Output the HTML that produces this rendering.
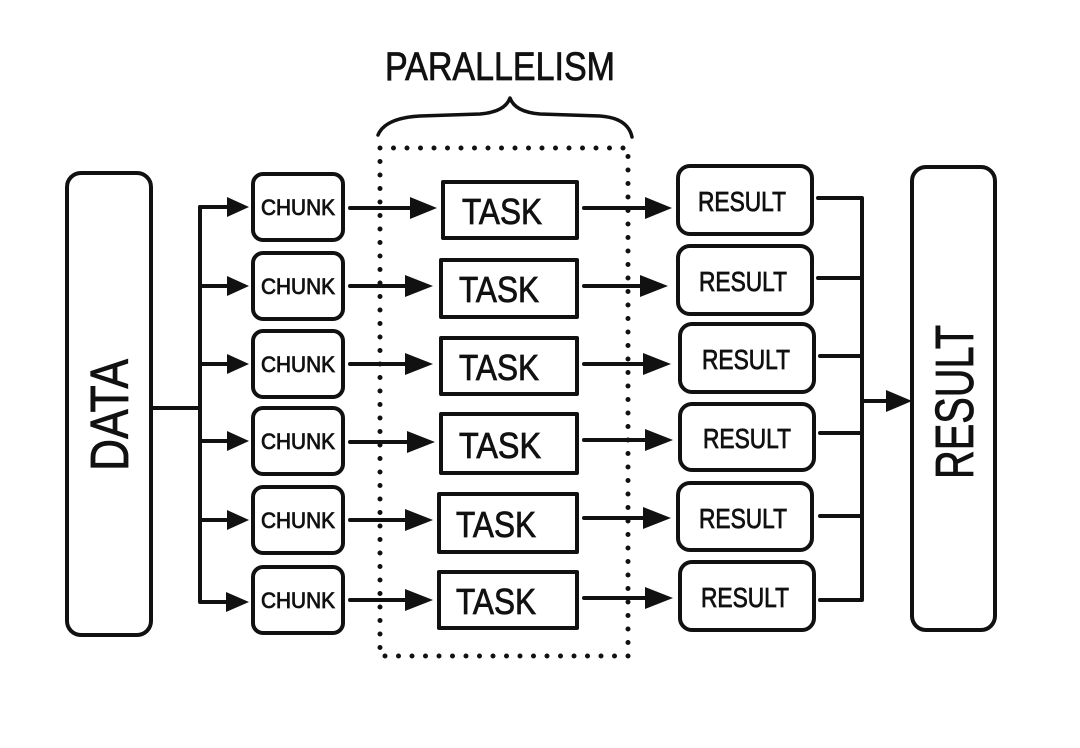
<!DOCTYPE html>
<html><head><meta charset="utf-8"><style>
html,body{margin:0;padding:0;background:#fff;}
svg{display:block;}
text{font-family:"Liberation Sans Narrow","Liberation Sans",sans-serif;fill:#111;stroke:#111;stroke-width:0.8;}
</style></head><body>
<svg width="1080" height="748" viewBox="0 0 1080 748" xmlns="http://www.w3.org/2000/svg">
<g fill="none" stroke="#111" stroke-width="4" stroke-linecap="round" stroke-linejoin="round">
<path d="M378 135 Q385 118 420 116 L480 114 Q505 112 510 98 Q515 112 540 114 L600 116 Q628 118 632 137" stroke-width="3.5"/>
<rect x="380" y="148" width="248" height="508" stroke-dasharray="0 13.5" stroke-width="5"/>
<rect x="67" y="173" width="84" height="462" rx="14"/>
<rect x="912" y="167" width="83" height="463" rx="14"/>
<path d="M151 408 L200 408"/>
<path d="M200 207 L200 602 L235 602"/>
<path d="M200 207 L235 207 M200 286 L235 286 M200 364 L235 364 M200 441 L235 441 M200 520 L235 520"/>
<rect x="253" y="174" width="90" height="66" rx="10"/>
<rect x="253" y="253" width="90" height="66" rx="10"/>
<rect x="253" y="331" width="90" height="66" rx="10"/>
<rect x="253" y="408" width="90" height="66" rx="10"/>
<rect x="253" y="487" width="90" height="66" rx="10"/>
<rect x="253" y="567" width="90" height="66" rx="10"/>
<rect x="443" y="182" width="134" height="56"/>
<rect x="441" y="260" width="136" height="57"/>
<rect x="441" y="338" width="136" height="56"/>
<rect x="441" y="414" width="136" height="59"/>
<rect x="439" y="494" width="138" height="58"/>
<rect x="439" y="572" width="138" height="56"/>
<rect x="678" y="166" width="134" height="68" rx="12"/>
<rect x="678" y="246" width="134" height="68" rx="12"/>
<rect x="680" y="324" width="134" height="68" rx="12"/>
<rect x="680" y="404" width="134" height="66" rx="12"/>
<rect x="678" y="483" width="134" height="67" rx="12"/>
<rect x="680" y="562" width="134" height="68" rx="12"/>
<path d="M350 208 L418 208 M350 286 L412 286 M350 364 L412 364 M350 442 L414 442 M350 520 L412 520 M350 600 L412 600"/>
<path d="M584 208 L650 208 M584 286 L645 286 M584 364 L648 364 M584 440 L650 440 M584 518 L648 518 M584 598 L650 598"/>
<path d="M818 198 L862 198 L862 600 L820 600 M818 278 L862 278 M820 356 L862 356 M820 433 L862 433 M820 516 L862 516"/>
<path d="M862 401 L892 401"/>
</g>
<g fill="#111">
<polygon points="227,197 249,207 227,217"/>
<polygon points="227,276 249,286 227,296"/>
<polygon points="227,354 249,364 227,374"/>
<polygon points="227,431 249,441 227,451"/>
<polygon points="227,510 249,520 227,530"/>
<polygon points="226,592 249,602 226,612"/>
<polygon points="410,197 437,208 410,219"/>
<polygon points="405,275 433,286 405,297"/>
<polygon points="405,353 433,364 405,375"/>
<polygon points="407,431 435,442 407,453"/>
<polygon points="405,509 433,520 405,531"/>
<polygon points="405,589 433,600 405,611"/>
<polygon points="645,197 672,208 645,219"/>
<polygon points="640,275 668,286 640,297"/>
<polygon points="643,353 671,364 643,375"/>
<polygon points="645,429 673,440 645,451"/>
<polygon points="643,507 671,518 643,529"/>
<polygon points="645,587 673,598 645,609"/>
<polygon points="886,390 912,401 886,412"/>
</g>
<text x="500" y="80" font-size="40" text-anchor="middle" textLength="230" lengthAdjust="spacingAndGlyphs">PARALLELISM</text>
<g font-size="22" text-anchor="middle">
<text x="298" y="215" textLength="74" lengthAdjust="spacingAndGlyphs">CHUNK</text>
<text x="298" y="294" textLength="74" lengthAdjust="spacingAndGlyphs">CHUNK</text>
<text x="298" y="372" textLength="74" lengthAdjust="spacingAndGlyphs">CHUNK</text>
<text x="298" y="449" textLength="74" lengthAdjust="spacingAndGlyphs">CHUNK</text>
<text x="298" y="528" textLength="74" lengthAdjust="spacingAndGlyphs">CHUNK</text>
<text x="298" y="608" textLength="74" lengthAdjust="spacingAndGlyphs">CHUNK</text>
</g>
<g font-size="36" text-anchor="middle">
<text x="502" y="224" textLength="80" lengthAdjust="spacingAndGlyphs">TASK</text>
<text x="499" y="302" textLength="80" lengthAdjust="spacingAndGlyphs">TASK</text>
<text x="499" y="380" textLength="80" lengthAdjust="spacingAndGlyphs">TASK</text>
<text x="500" y="458" textLength="82" lengthAdjust="spacingAndGlyphs">TASK</text>
<text x="496" y="537" textLength="80" lengthAdjust="spacingAndGlyphs">TASK</text>
<text x="496" y="614" textLength="80" lengthAdjust="spacingAndGlyphs">TASK</text>
</g>
<g font-size="28" text-anchor="middle">
<text x="742" y="211" textLength="88" lengthAdjust="spacingAndGlyphs">RESULT</text>
<text x="743" y="291" textLength="88" lengthAdjust="spacingAndGlyphs">RESULT</text>
<text x="746" y="369" textLength="88" lengthAdjust="spacingAndGlyphs">RESULT</text>
<text x="747" y="448" textLength="88" lengthAdjust="spacingAndGlyphs">RESULT</text>
<text x="743" y="528" textLength="88" lengthAdjust="spacingAndGlyphs">RESULT</text>
<text x="745" y="607" textLength="88" lengthAdjust="spacingAndGlyphs">RESULT</text>
</g>
<text transform="translate(128,415) rotate(-90)" font-size="54" text-anchor="middle" textLength="112" lengthAdjust="spacingAndGlyphs">DATA</text>
<text transform="translate(973,402) rotate(-90)" font-size="54" text-anchor="middle" textLength="154" lengthAdjust="spacingAndGlyphs">RESULT</text>
</svg>
</body></html>
